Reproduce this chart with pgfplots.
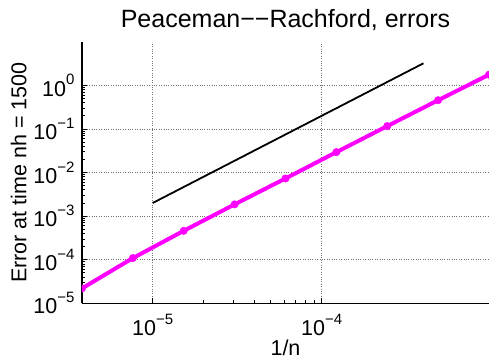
\documentclass[border=0pt]{standalone}
\usepackage{fontspec}
\setmainfont{Liberation Sans}
\usepackage{pgfplots}
\pgfplotsset{compat=1.18}
\definecolor{mag}{RGB}{255,0,255}
\newcommand{\tp}[1]{10\raisebox{0.52em}{\fontsize{15}{15}\selectfont #1}}
\begin{document}
\begin{tikzpicture}
\begin{axis}[
  at={(0,0)}, anchor=south west,
  scale only axis, width=407pt, height=261.6pt,
  xmode=log, ymode=log,
  xmin=3.8147e-6, xmax=9.765625e-4,
  ymin=1e-5, ymax=1e1,
  axis lines=left,
  axis line style={line width=1.6pt, -},
  tick style={black, line width=0.8pt},
  tick align=inside,
  major tick length=5pt, minor tick length=3pt,
  xtick={1e-5,1e-4},
  xticklabels={\tp{−5},\tp{−4}},
  ytick={1e-5,1e-4,1e-3,1e-2,1e-1,1},
  yticklabels={\tp{−5},\tp{−4},\tp{−3},\tp{−2},\tp{−1},\tp{0}},
  ticklabel style={font=\fontsize{21.5}{24}\selectfont},
  xticklabel style={yshift=-7pt},
  yticklabel style={xshift=-4pt},
  grid=major,
  major grid style={black!55, dotted, line width=0.7pt},
  title={Peaceman−−Rachford, errors},
  title style={font=\fontsize{25}{28}\selectfont, yshift=1pt},
  xlabel={1/n},
  ylabel={Error at time nh = 1500},
  label style={font=\fontsize{21.5}{24}\selectfont},
  xlabel style={yshift=2.5pt},
  clip marker paths=true,
]
\addplot[black, line width=1.8pt] coordinates {(1e-5,2e-3) (4e-4,3.2)};
\addplot[mag, line width=4pt, mark=*, mark size=3.7pt, mark options={fill=mag, draw=mag, line width=0.5pt}] coordinates {
(3.8147e-6,2.2e-5)
(7.6294e-6,1.09e-4)
(1.5259e-5,4.6e-4)
(3.0518e-5,1.86e-3)
(6.1035e-5,7.3e-3)
(1.2207e-4,0.0293)
(2.4414e-4,0.116)
(4.8828e-4,0.455)
(9.765625e-4,1.75)
};
\end{axis}
\pgfresetboundingbox
\path (-82pt,-56.7pt) rectangle (407pt,303.3pt);
\end{tikzpicture}
\end{document}
